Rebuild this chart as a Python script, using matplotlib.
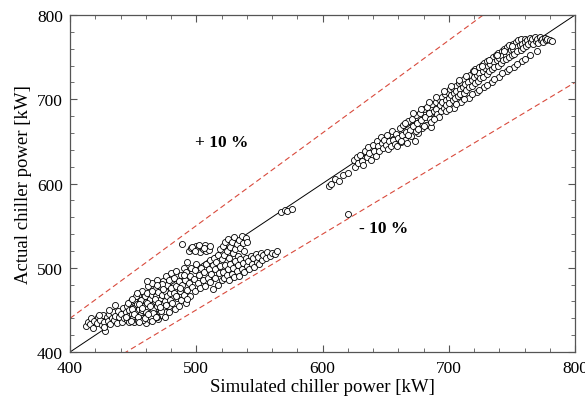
import numpy as np
import matplotlib.pyplot as plt
from matplotlib.ticker import MultipleLocator

# simulated vs actual chiller power [kW], by cluster
sim_low = [413, 414, 416, 417, 418, 419, 421, 422, 424, 425, 426, 427, 428, 429, 430, 431, 432, 433, 434, 435,
           436, 437, 438, 439, 440, 423, 427, 431, 436]
act_low = [431, 436, 433, 440, 429, 437, 434, 441, 438, 432, 444, 436, 425, 441, 437, 445, 433, 440, 447, 438,
           443, 435, 449, 441, 445, 444, 430, 450, 456]

sim_dense = [441, 442, 443, 444, 445, 445, 446, 447, 447, 448, 449, 450, 450,
             451, 451, 452, 453, 453, 454, 454, 455, 456, 456, 457, 457, 458, 459, 459, 460, 460,
             461, 461, 462, 462, 463, 463, 464, 464, 465, 465, 466, 466, 467, 467, 468, 468, 469, 469, 470, 470,
             471, 471, 472, 472, 473, 473, 474, 474, 475, 475, 476, 476, 477, 477, 478, 478, 479, 479, 480, 480]
act_dense = [436, 452, 440, 447, 438, 455, 443, 450, 436, 460, 445, 440, 452,
             462, 436, 448, 443, 457, 437, 468, 451, 445, 462, 440, 473, 455, 448, 466, 435, 459,
             443, 470, 452, 478, 438, 463, 447, 456, 468, 482, 441, 451, 460, 475, 445, 466, 455, 486, 439, 471,
             448, 462, 477, 457, 444, 468, 484, 452, 472, 461, 490, 447, 466, 479, 455, 486, 470, 462, 476, 494]

# extra points filling the blob around 445-480 kW
sim_blob = [444, 446, 448, 449, 451, 452, 454, 455, 457, 458, 460, 461, 463, 464, 466, 467, 469, 470, 472, 473,
            475, 476, 478, 455, 459, 462, 465, 468, 471, 474, 449, 453, 457, 461, 465, 469]
act_blob = [442, 458, 437, 451, 445, 466, 441, 457, 450, 438, 447, 458, 455, 441, 446, 463, 442, 458, 449, 481,
            441, 456, 447, 436, 440, 445, 437, 441, 454, 475, 463, 470, 452, 484, 473, 480]

sim_mid = [481, 482, 482, 483, 484, 484, 485, 486, 486, 487, 488, 488, 489, 489, 490, 490, 491, 492, 492, 493,
           493, 494, 494, 495, 495, 496, 496, 497, 498, 498, 499, 499, 500, 500, 501, 501, 502, 503, 503, 504,
           504, 505, 505, 506, 507, 507, 508, 508, 509, 509, 510, 510, 511, 511, 512, 513, 513, 514, 515, 515,
           516, 517, 517, 518, 519, 519, 520, 520, 497, 499, 502, 506, 487, 493, 511, 484, 490]
act_mid = [458, 470, 488, 451, 478, 496, 464, 484, 455, 472, 492, 462, 528, 479, 500, 468, 486, 458, 495, 474,
           507, 520, 482, 490, 466, 524, 500, 477, 521, 487, 472, 497, 526, 505, 482, 522, 492, 519, 476, 525,
           500, 486, 522, 495, 527, 478, 520, 504, 488, 524, 498, 521, 483, 509, 493, 475, 503, 512, 488, 498,
           507, 480, 515, 494, 502, 522, 486, 510, 525, 520, 527, 523, 476, 463, 526, 467, 492]

sim_up = [521, 522, 523, 524, 525, 526, 527, 528, 529, 530, 531, 532, 533, 534, 535, 536, 537, 538, 539, 540]
act_up = [526, 515, 530, 520, 534, 512, 525, 531, 518, 536, 522, 528, 514, 533, 524, 538, 529, 520, 535, 530]

sim_branch = [521, 522, 523, 524, 525, 526, 527, 528, 529, 530, 531, 532, 533, 534, 535, 536, 537, 538, 539, 540,
              541, 542, 543, 544, 545, 546, 547, 548, 549, 550, 551, 552, 553, 555, 556, 558, 560, 562, 564]
act_branch = [495, 488, 503, 492, 498, 485, 505, 493, 500, 489, 508, 496, 503, 490, 510, 499, 506, 495, 512, 502,
              508, 498, 514, 505, 511, 501, 516, 507, 513, 504, 517, 509, 515, 512, 519, 514, 518, 516, 520]

sim_sparse = [567, 570, 572, 576, 605, 607, 610, 613, 616, 620, 620]
act_sparse = [566, 568, 567, 570, 597, 600, 605, 603, 610, 613, 564]

sim_high = [625, 626, 627, 628, 630, 631, 632, 634, 635, 636, 637, 638, 640, 641, 642, 643, 644, 645, 646, 647,
            648, 649, 650, 651, 652, 653, 654, 655, 656, 657, 658, 659, 660, 661, 662, 663, 664, 665, 666, 667,
            668, 669, 670, 671, 672, 673, 674, 675, 676, 677, 678, 679, 680, 681, 682, 683, 684, 685, 686, 687,
            688, 689, 690, 690, 691, 692, 693, 694, 695, 695, 696, 697, 698, 698, 699, 700, 700, 701, 702, 703,
            703, 704, 705, 706, 706, 707, 708, 709, 709, 710, 711, 712, 712, 713, 714, 715, 715, 716, 717, 718,
            718, 719, 720, 721, 721, 722, 723, 724, 724, 725, 726, 727, 727, 728, 729, 730, 730, 731, 732, 733,
            733, 734, 735, 736, 736, 737, 738, 739, 739, 740, 741, 742, 742, 743, 744, 745, 745, 746, 747, 748,
            748, 749, 750, 751, 751, 752, 753, 754, 754, 755, 756, 757, 757, 758, 759, 760, 760, 761, 762, 763,
            764, 765, 766, 767, 768, 769, 770, 771, 772, 773, 774, 775, 776, 777, 778, 780, 782]
act_high = [628, 620, 631, 624, 634, 627, 622, 639, 631, 643, 636, 628, 646, 639, 633, 651, 644, 638, 655, 648,
            642, 652, 646, 658, 641, 650, 645, 662, 652, 647, 659, 644, 654, 666, 649, 657, 670, 652, 661, 648,
            674, 663, 656, 677, 668, 651, 681, 672, 660, 684, 675, 666, 689, 679, 670, 691, 684, 676, 667, 694,
            686, 679, 697, 689, 683, 700, 693, 686, 703, 697, 690, 706, 699, 693, 709, 702, 696, 712, 705, 699,
            713, 708, 701, 716, 710, 704, 719, 712, 706, 721, 715, 708, 724, 718, 711, 727, 721, 714, 729, 723,
            716, 733, 726, 719, 736, 729, 722, 738, 731, 725, 741, 734, 727, 743, 737, 730, 745, 740, 733, 747,
            742, 736, 750, 744, 738, 752, 747, 740, 755, 749, 743, 757, 751, 746, 760, 753, 748, 762, 756, 750,
            764, 758, 752, 766, 760, 754, 768, 762, 757, 770, 764, 759, 771, 766, 761, 772, 768, 763, 770, 766,
            773, 768, 771, 765, 774, 769, 772, 767, 774, 770, 772, 768, 773, 770, 772, 770, 769]

# outer edges of the upper band (below and above the diagonal)
sim_edge = [662, 668, 674, 680, 686, 692, 698, 704, 710, 716, 722, 728, 734, 740, 746, 752, 758, 764, 770,
            676, 688, 700, 712, 724, 736, 748, 760, 706, 718, 730, 742, 754,
            665, 678, 690, 702, 714, 726, 738, 750, 696, 708, 720, 732, 744, 684, 672]
act_edge = [650, 657, 662, 668, 673, 679, 686, 690, 697, 702, 709, 714, 721, 726, 733, 738, 745, 752, 757,
            665, 676, 688, 700, 711, 724, 736, 748, 694, 706, 717, 731, 742,
            672, 688, 703, 716, 728, 740, 752, 763, 710, 723, 734, 746, 757, 697, 684]

sim = np.array(sim_low + sim_dense + sim_blob + sim_mid + sim_up + sim_branch + sim_sparse + sim_high + sim_edge)
act = np.array(act_low + act_dense + act_blob + act_mid + act_up + act_branch + act_sparse + act_high + act_edge)

plt.rcParams['font.family'] = ['Liberation Serif', 'DejaVu Serif']

fig = plt.figure(figsize=(5.85, 4.06), dpi=100)
ax = fig.add_axes([0.1197, 0.1305, 0.8633, 0.8301])

ref = np.array([400, 800])
ax.plot(ref, ref, color='black', lw=0.7, zorder=1)
ax.plot(ref, 1.1 * ref, color='#d94a3c', lw=0.8, ls=(0, (5, 3)), zorder=1)
ax.plot(ref, 0.9 * ref, color='#d94a3c', lw=0.8, ls=(0, (5, 3)), zorder=1)

ax.scatter(sim, act, s=19, facecolors='white', edgecolors='black', linewidths=0.6, zorder=2)

ax.text(520, 649, '+ 10 %', fontsize=12.5, fontweight='bold', ha='center', va='center')
ax.text(648, 547, '- 10 %', fontsize=12.5, fontweight='bold', ha='center', va='center')

ax.set_xlim(400, 800)
ax.set_ylim(400, 800)
ax.xaxis.set_major_locator(MultipleLocator(100))
ax.yaxis.set_major_locator(MultipleLocator(100))
ax.xaxis.set_minor_locator(MultipleLocator(20))
ax.yaxis.set_minor_locator(MultipleLocator(20))
ax.tick_params(which='both', direction='in', top=True, right=True, colors='#555555',
               labelcolor='black', labelsize=12.5)
ax.tick_params(axis='x', which='major', pad=6)
ax.tick_params(axis='y', which='major', pad=5)
ax.tick_params(which='major', length=5, width=0.8)
ax.tick_params(which='minor', length=3, width=0.6)
for s in ax.spines.values():
    s.set_color('#555555')
    s.set_linewidth(0.9)

ax.set_xlabel('Simulated chiller power [kW]', fontsize=13.5, labelpad=1)
ax.set_ylabel('Actual chiller power [kW]', fontsize=13.5, labelpad=4)

fig.savefig('out.png', dpi=100)
